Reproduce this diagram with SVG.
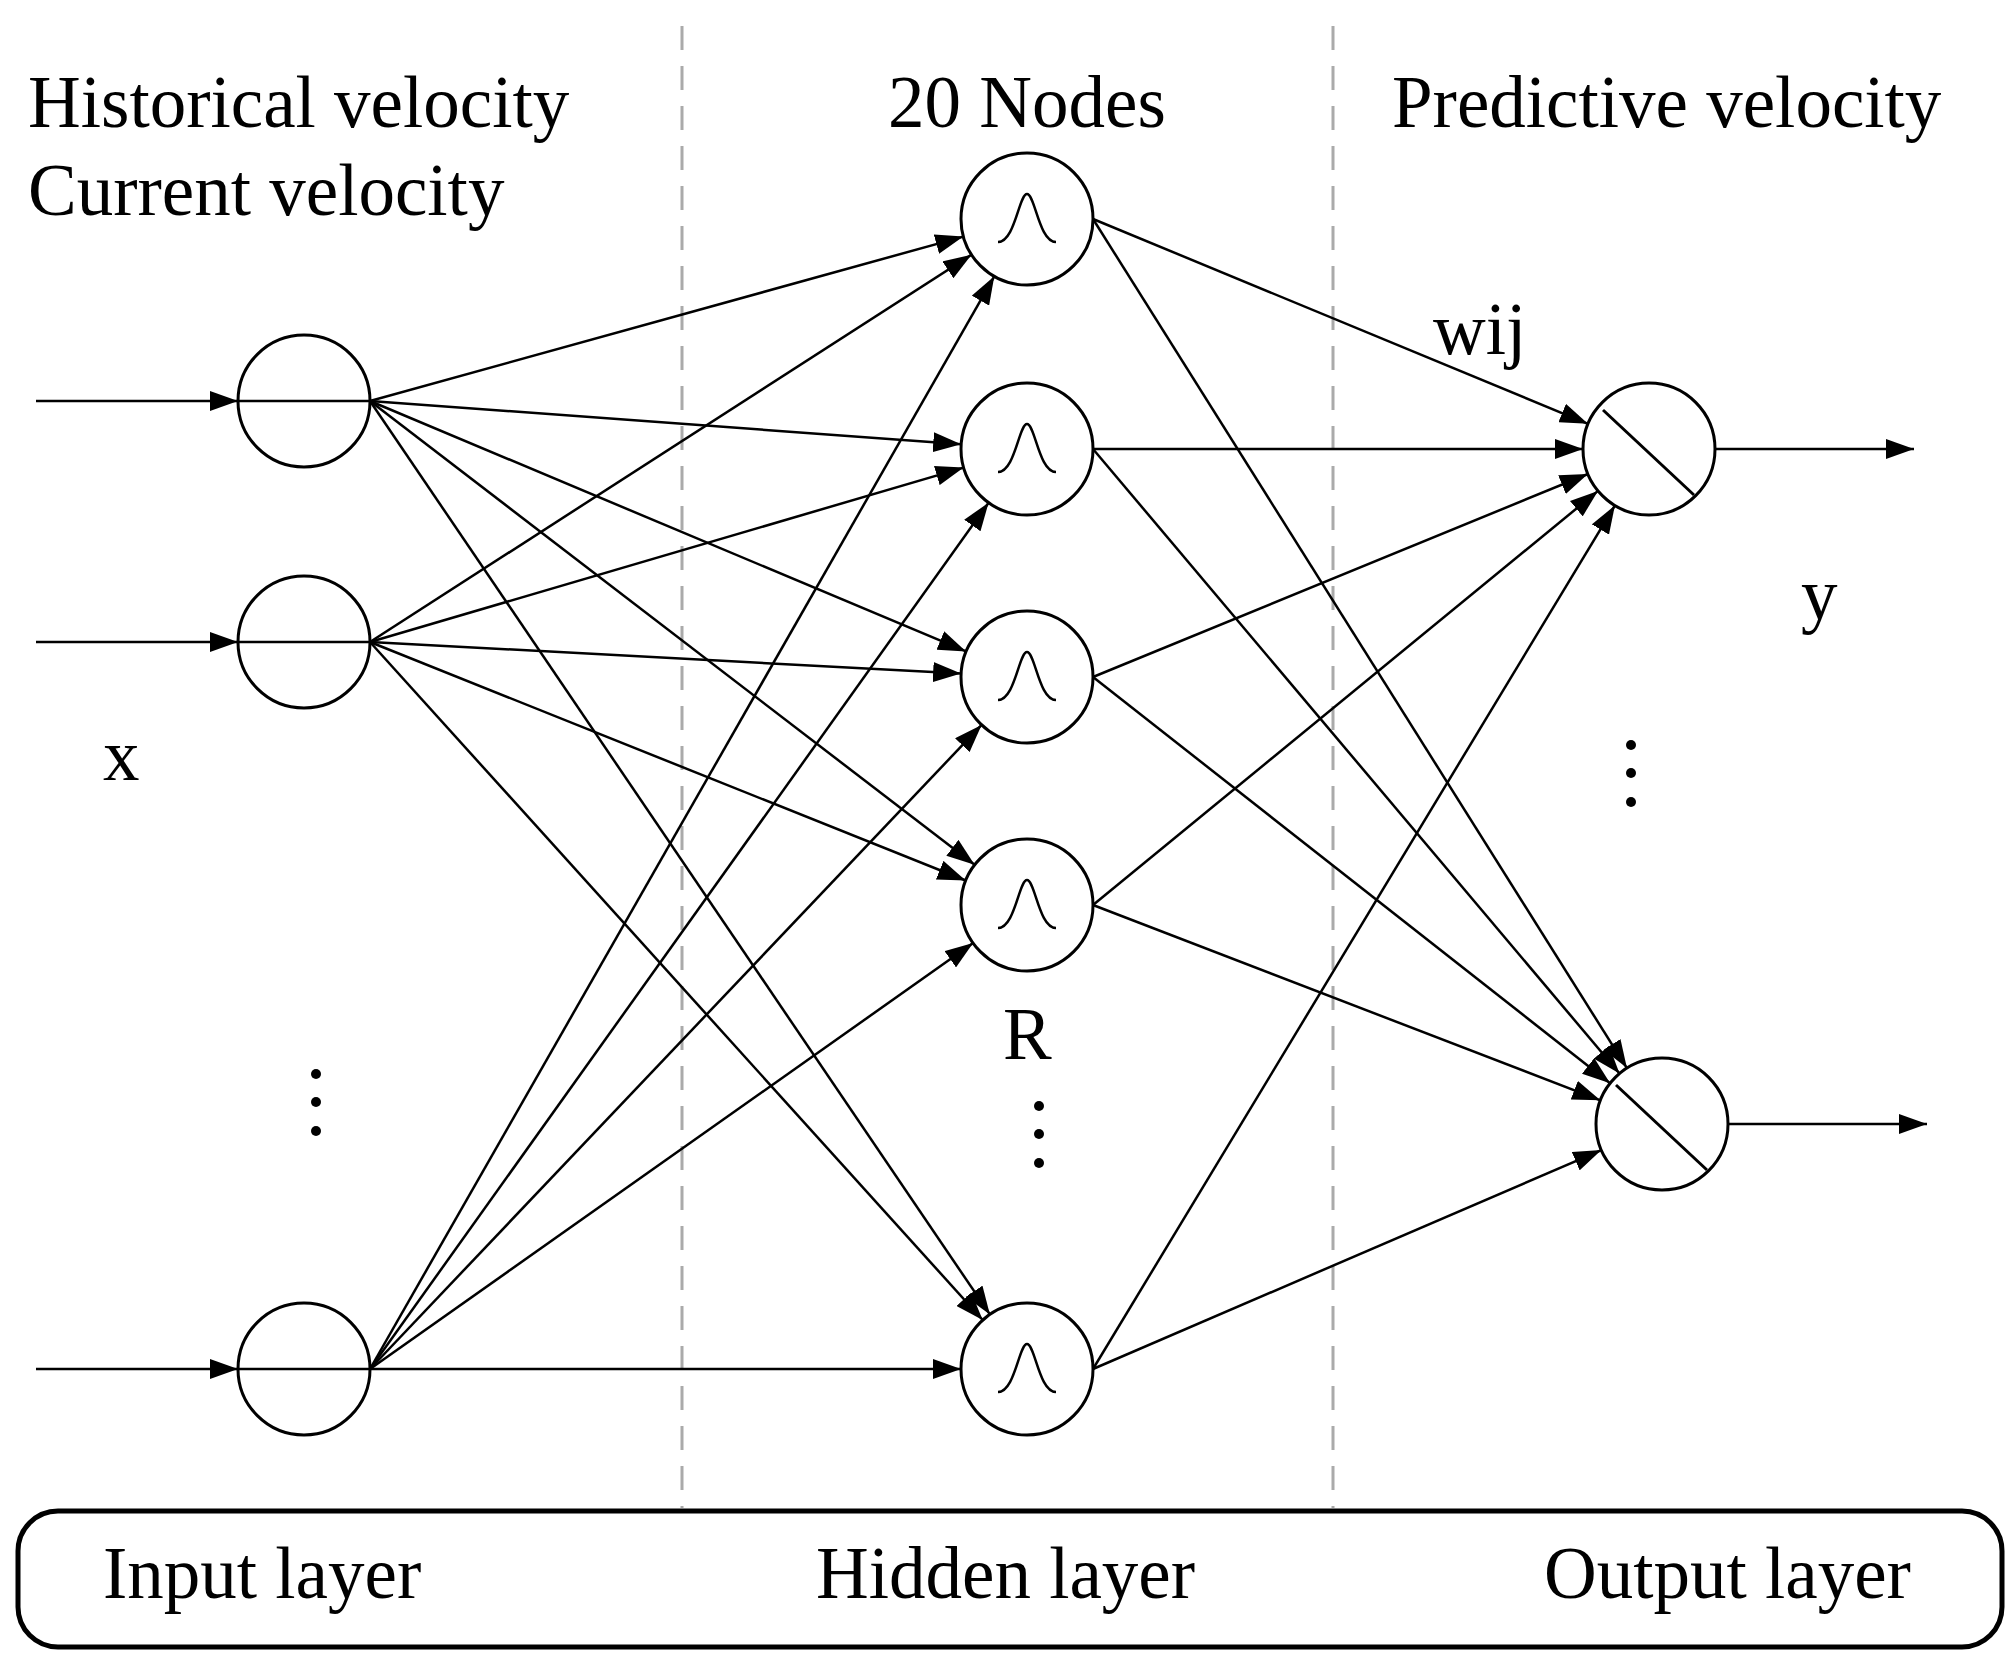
<svg xmlns="http://www.w3.org/2000/svg" width="2015" height="1663" viewBox="0 0 2015 1663">
<style>
.n{fill:#fff;stroke:#000;stroke-width:3}
.c line{stroke:#000;stroke-width:2.5}
.a{marker-end:url(#ah)}
.t{font-family:"Liberation Serif","Times New Roman",serif;font-size:73px;fill:#000}
.g{fill:none;stroke:#000;stroke-width:2.5}
.d{stroke:#aaa;stroke-width:3;stroke-dasharray:24,16}
</style>
<defs>
<marker id="ah" markerUnits="userSpaceOnUse" markerWidth="28" markerHeight="20" viewBox="0 0 28 20" refX="28" refY="10" orient="auto"><path d="M0,0 L28,10 L0,20 z" fill="#000"/></marker>
<path id="gs" d="M-29,23 C-12,23 -8,-25 0,-25 C8,-25 12,23 29,23" class="g"/>
</defs>
<rect width="2015" height="1663" fill="#fff"/>
<g id="dividers">
<line class="d" x1="682" y1="26" x2="682" y2="1508"/>
<line class="d" x1="1333" y1="26" x2="1333" y2="1508"/>
</g>
<g id="connectors" class="c">
<line class="a" x1="36" y1="401" x2="238" y2="401"/>
<line class="a" x1="36" y1="642" x2="238" y2="642"/>
<line class="a" x1="36" y1="1369" x2="238" y2="1369"/>
<line class="a" x1="370" y1="401" x2="963.4" y2="236.6"/>
<line class="a" x1="370" y1="401" x2="961.2" y2="444.2"/>
<line class="a" x1="370" y1="401" x2="966.1" y2="651.4"/>
<line class="a" x1="370" y1="401" x2="974.6" y2="864.8"/>
<line class="a" x1="370" y1="401" x2="989.9" y2="1314.4"/>
<line class="a" x1="370" y1="642" x2="971.5" y2="254.7"/>
<line class="a" x1="370" y1="642" x2="963.7" y2="467.6"/>
<line class="a" x1="370" y1="642" x2="961.1" y2="673.5"/>
<line class="a" x1="370" y1="642" x2="965.7" y2="880.5"/>
<line class="a" x1="370" y1="642" x2="982.7" y2="1320"/>
<line class="a" x1="370" y1="1369" x2="994.3" y2="276.3"/>
<line class="a" x1="370" y1="1369" x2="988.6" y2="502.7"/>
<line class="a" x1="370" y1="1369" x2="981.6" y2="724.9"/>
<line class="a" x1="370" y1="1369" x2="973.1" y2="943.1"/>
<line class="a" x1="370" y1="1369" x2="961" y2="1369"/>
<line class="a" x1="1093" y1="219" x2="1588" y2="423.8"/>
<line class="a" x1="1093" y1="449" x2="1583" y2="449"/>
<line class="a" x1="1093" y1="677" x2="1587.9" y2="474"/>
<line class="a" x1="1093" y1="905" x2="1598" y2="490.9"/>
<line class="a" x1="1093" y1="1369" x2="1614.9" y2="505.5"/>
<line class="a" x1="1093" y1="219" x2="1626.9" y2="1068.1"/>
<line class="a" x1="1093" y1="449" x2="1619.5" y2="1073.5"/>
<line class="a" x1="1093" y1="677" x2="1610.1" y2="1083.2"/>
<line class="a" x1="1093" y1="905" x2="1600.4" y2="1100.3"/>
<line class="a" x1="1093" y1="1369" x2="1601.4" y2="1150.1"/>
<line class="a" x1="1715" y1="449" x2="1914" y2="449"/>
<line class="a" x1="1727" y1="1124" x2="1927" y2="1124"/>
</g>
<g id="in1"><circle class="n" cx="304" cy="401" r="66"/><line x1="238" y1="401" x2="370" y2="401" stroke="#000" stroke-width="2.5"/></g>
<g id="in2"><circle class="n" cx="304" cy="642" r="66"/><line x1="238" y1="642" x2="370" y2="642" stroke="#000" stroke-width="2.5"/></g>
<g id="in3"><circle class="n" cx="304" cy="1369" r="66"/><line x1="238" y1="1369" x2="370" y2="1369" stroke="#000" stroke-width="2.5"/></g>
<g id="h1"><circle class="n" cx="1027" cy="219" r="66"/><use href="#gs" x="1027" y="219"/></g>
<g id="h2"><circle class="n" cx="1027" cy="449" r="66"/><use href="#gs" x="1027" y="449"/></g>
<g id="h3"><circle class="n" cx="1027" cy="677" r="66"/><use href="#gs" x="1027" y="677"/></g>
<g id="h4"><circle class="n" cx="1027" cy="905" r="66"/><use href="#gs" x="1027" y="905"/></g>
<g id="h5"><circle class="n" cx="1027" cy="1369" r="66"/><use href="#gs" x="1027" y="1369"/></g>
<g id="o1"><circle class="n" cx="1649" cy="449" r="66"/><line x1="1603" y1="410" x2="1694" y2="495" stroke="#000" stroke-width="3"/></g>
<g id="o2"><circle class="n" cx="1662" cy="1124" r="66"/><line x1="1616" y1="1085" x2="1707" y2="1170" stroke="#000" stroke-width="3"/></g>
<g id="dots" fill="#000">
<circle cx="316" cy="1074" r="5"/><circle cx="316" cy="1102" r="5"/><circle cx="316" cy="1131" r="5"/>
<circle cx="1039" cy="1106" r="5"/><circle cx="1039" cy="1134" r="5"/><circle cx="1039" cy="1163" r="5"/>
<circle cx="1631" cy="745" r="5"/><circle cx="1631" cy="773" r="5"/><circle cx="1631" cy="802" r="5"/>
</g>
<g id="labels" class="t">
<text x="28" y="127">Historical velocity</text>
<text x="28" y="215">Current velocity</text>
<text x="1027" y="127" text-anchor="middle">20 Nodes</text>
<text x="1392" y="127">Predictive velocity</text>
<text x="1433" y="354">wij</text>
<text x="1801" y="619">y</text>
<text x="103" y="780">x</text>
<text x="1003" y="1059">R</text>
</g>
<g id="layerbox">
<rect x="18" y="1511" width="1984" height="136" rx="40" fill="none" stroke="#000" stroke-width="5"/>
<text class="t" x="103" y="1598">Input layer</text>
<text class="t" x="816" y="1598">Hidden layer</text>
<text class="t" x="1544" y="1598">Output layer</text>
</g>
</svg>
